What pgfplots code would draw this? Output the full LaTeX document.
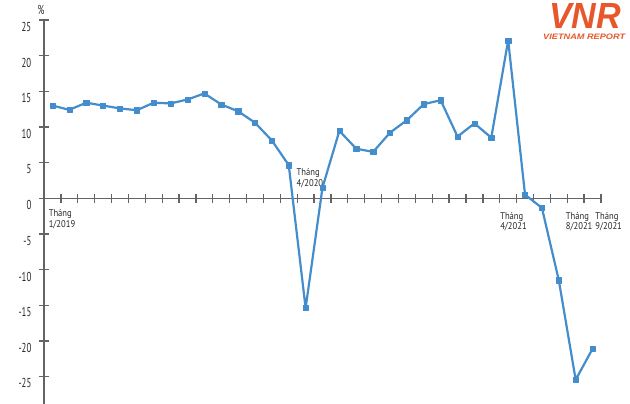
\documentclass[border=0pt]{standalone}
\usepackage{fontspec}
\setmainfont{PT Sans}
\newfontfamily\tickfont[FakeStretch=0.68]{PT Sans}
\newfontfamily\labfont[FakeStretch=0.88]{PT Sans}
\newfontfamily\logofont{Liberation Sans}
\usepackage{graphicx}
\usepackage{pgfplots}
\pgfplotsset{compat=1.18}
\definecolor{linec}{RGB}{68,141,204}
\definecolor{axc}{RGB}{100,100,100}
\definecolor{logoc}{RGB}{232,86,44}
\pgfplotstableread{
x y
0.5 13.0
1.5 12.4
2.5 13.4
3.5 13.0
4.5 12.6
5.5 12.35
6.5 13.4
7.5 13.3
8.5 13.85
9.5 14.7
10.5 13.15
11.5 12.2
12.5 10.6
13.5 8.1
14.5 4.65
15.5 -15.4
16.5 1.5
17.5 9.45
18.5 6.95
19.5 6.5
20.5 9.2
21.5 10.95
22.5 13.2
23.5 13.75
24.5 8.65
25.5 10.5
26.5 8.5
27.5 22.15
28.5 0.5
29.5 -1.35
30.5 -11.5
31.5 -25.45
32.5 -21.1
}\datatable
\begin{document}
\begin{tikzpicture}
\begin{axis}[
  at={(44bp,0bp)}, anchor=south west,
  scale only axis, width=557bp, height=384bp,
  xmin=0, xmax=33, ymin=-28.85, ymax=25,
  axis x line*=middle, axis y line*=left,
  axis line style={axc, line width=1.4bp},
  xtick={1,...,33}, xticklabels={},
  ytick={-25,-20,-15,-10,-5,0,5,10,15,20,25},
  yticklabels={-25,-20,-15,-10,-5,0,5,10,15,20,25},
  tick align=center, major tick length=9bp,
  tick style={axc, line width=1.3bp},
  yticklabel style={font=\tickfont\fontsize{13}{13}\selectfont, text=black!85, anchor=north east, inner sep=0pt, xshift=-8bp, yshift=-2bp},
  clip=false,
]
\addplot[linec, line width=2.2bp, line join=round, mark=square*, mark size=2.6bp,
  mark options={fill=linec, draw=linec, line width=0.4bp}] table[x=x, y=y] {\datatable};
\node[anchor=west, align=left, inner sep=0pt, font=\labfont\fontsize{9.8}{10.5}\selectfont, text=black!85] at (axis cs:0.27,-2.9) {Tháng\\1/2019};
\node[anchor=west, align=left, inner sep=0pt, font=\labfont\fontsize{9.8}{10.5}\selectfont, text=black!85] at (axis cs:14.96,2.85) {Tháng\\4/2020};
\node[anchor=west, align=left, inner sep=0pt, font=\labfont\fontsize{9.8}{10.5}\selectfont, text=black!85] at (axis cs:27.02,-3.25) {Tháng\\4/2021};
\node[anchor=west, align=left, inner sep=0pt, font=\labfont\fontsize{9.8}{10.5}\selectfont, text=black!85] at (axis cs:30.91,-3.25) {Tháng\\8/2021};
\node[anchor=west, align=left, inner sep=0pt, font=\labfont\fontsize{9.8}{10.5}\selectfont, text=black!85] at (axis cs:32.66,-3.25) {Tháng\\9/2021};
\end{axis}
\node[font=\tickfont\fontsize{13}{13}\selectfont, text=black!85, inner sep=0pt] at (41bp,394bp) {\%};
\node[anchor=north west, inner sep=0pt, text=logoc] at (549bp,401bp) {\resizebox{72bp}{25bp}{\logofont\bfseries\itshape VNR}};
\node[anchor=north west, inner sep=0pt, text=logoc] at (543bp,370bp) {\resizebox{82bp}{5.5bp}{\logofont\bfseries\itshape VIETNAM REPORT}};
\pgfresetboundingbox
\path (0bp,0bp) rectangle (630bp,404bp);
\end{tikzpicture}
\end{document}
